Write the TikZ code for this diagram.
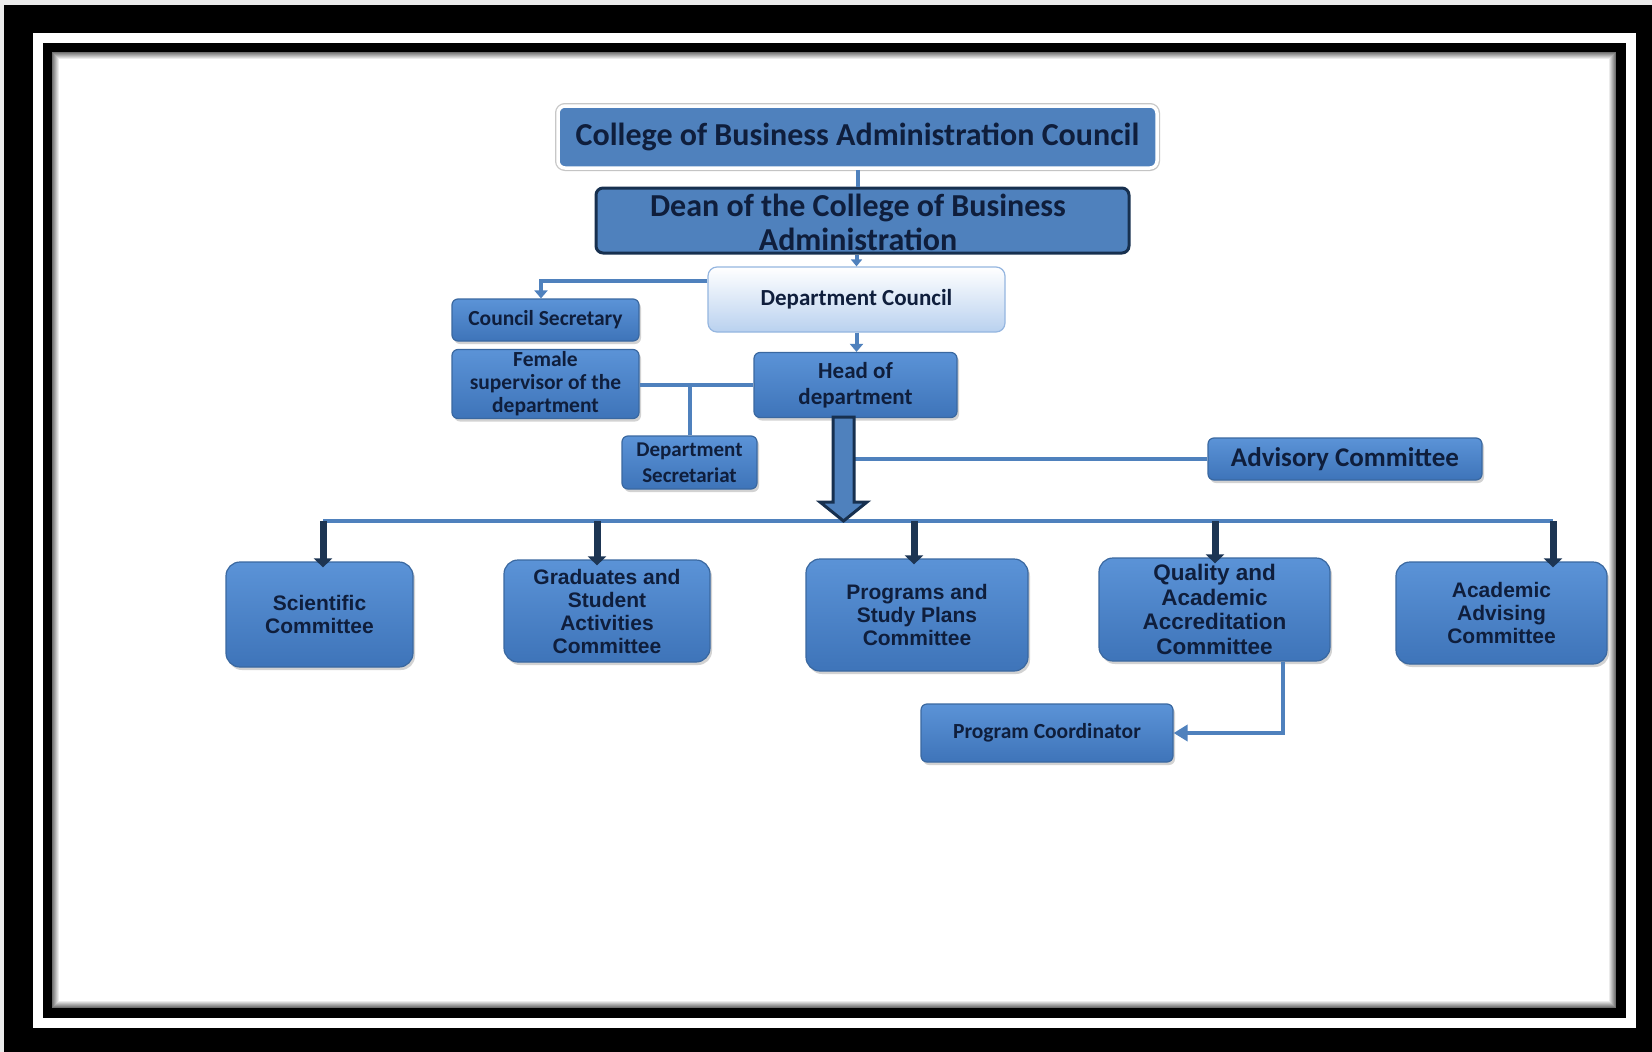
\documentclass[tikz,border=0pt]{standalone}
\usepackage{fontspec}
\setmainfont{Carlito}
\newfontfamily\arialfont{Liberation Sans}
\usepackage{tikz}
\usetikzlibrary{arrows.meta, positioning, shadows}
\definecolor{navytext}   {HTML}{0F1E3C}
\definecolor{boxblue}    {HTML}{4F81BD}
\definecolor{boxtop}     {HTML}{5B93D7}
\definecolor{boxbot}     {HTML}{3E74B9}
\definecolor{boxedge}    {HTML}{3A68A0}
\definecolor{deanedge}   {HTML}{17304F}
\definecolor{councilfill}{HTML}{B9D1EF}
\definecolor{counciledge}{HTML}{95B6E0}
\definecolor{linkblue}   {HTML}{4F81BD}
\definecolor{dropnavy}   {HTML}{1D3553}

\begin{document}
\begin{tikzpicture}[
    x=1pt, y=-1pt,
    every node/.style={text=navytext, inner sep=0pt},
    topbox/.style={rounded corners=7pt, fill=boxblue, align=center,
                   font=\bfseries\fontsize{32}{34}\selectfont},
    councilbox/.style={rounded corners=9pt, top color=white, bottom color=councilfill,
                   draw=counciledge, line width=1.2pt, align=center,
                   font=\bfseries\fontsize{23}{26}\selectfont},
    smallbox/.style={rounded corners=6pt, top color=boxtop, bottom color=boxbot,
                   draw=boxedge, line width=1.2pt, align=center,
                   drop shadow={shadow xshift=2pt, shadow yshift=-3pt, opacity=0.35},
                   font=\bfseries\fontsize{21.5}{23}\selectfont},
    combox/.style={smallbox, rounded corners=14pt,
                   font=\arialfont\bfseries\fontsize{21}{23}\selectfont},
    link/.style={draw=linkblue, line width=4pt},
    tipsmall/.style={-{Triangle[width=13pt,length=8pt]}},
    drop/.style={draw=dropnavy, line width=7pt, -{Triangle[width=18pt,length=9pt]},
                 shorten >=-6pt},
    bigarrow/.style={fill=boxblue, draw=deanedge, line width=3pt, line join=miter},
  ]
    \fill[black!8] (0,0) rectangle (1652,1052);
    \fill[black] (4,5) rectangle (1652,1052);
    \fill[white] (33,33) rectangle (1636,1028);
    \fill[black] (43,43) rectangle (1626,1018);
    \fill[white] (52,52) rectangle (1616,1008);
    \foreach \k [evaluate=\k as \g using 64-8*\k] in {1,...,8}
      \draw[black!\g, line width=1pt] (52+\k-0.5,52+\k-0.5) rectangle (1616-\k+0.5,1008-\k+0.5);

    \node[topbox, draw=white, line width=3.5pt, minimum width=599, minimum height=62,
          preaction={draw=black!22, line width=6pt},
          drop shadow={shadow xshift=1pt, shadow yshift=-2pt, opacity=0.25}]
      (college) at (857.5,137) {College of Business Administration Council};
    \node[topbox, draw=deanedge, line width=3pt, minimum width=533, minimum height=65]
      (dean) at (862.5,220.5) {};
    \node[align=center, font=\bfseries\fontsize{32}{34}\selectfont]
      (deantext) at (858,222.5) {Dean of the College of Business\\Administration};
    \node[councilbox, minimum width=297, minimum height=65]
      (council) at (856.5,299.5) {Department Council};

    \node[smallbox, minimum width=187, minimum height=42]
      (secretary) at (545.5,320) {Council Secretary};
    \node[smallbox, minimum width=187, minimum height=69]
      (female) at (545.5,384) {Female\\supervisor of the\\department};
    \node[smallbox, minimum width=203, minimum height=65,
          font=\bfseries\fontsize{23}{26}\selectfont]
      (head) at (855.5,385) {Head of\\department};
    \node[smallbox, minimum width=135, minimum height=53,
          font=\bfseries\fontsize{21}{26}\selectfont]
      (deptsec) at (689.5,462.5) {Department\\Secretariat};
    \node[smallbox, minimum width=274, minimum height=42,
          font=\bfseries\fontsize{27}{30}\selectfont]
      (advisory) at (1345,459) {Advisory Committee};

    \node[combox, minimum width=187, minimum height=105]
      (sci) at (319.5,614.5) {Scientific\\Committee};
    \node[combox, minimum width=206, minimum height=102]
      (grad) at (607,611) {Graduates and\\Student\\Activities\\Committee};
    \node[combox, minimum width=222, minimum height=112]
      (prog) at (917,615) {Programs and\\Study Plans\\Committee};
    \node[combox, minimum width=231, minimum height=103,
          font=\arialfont\bfseries\fontsize{22.5}{24.5}\selectfont]
      (qual) at (1214.5,609.5) {Quality and\\Academic\\Accreditation\\Committee};
    \node[combox, minimum width=211, minimum height=102]
      (acad) at (1501.5,613) {Academic\\Advising\\Committee};
    \node[smallbox, minimum width=252, minimum height=58]
      (progcoord) at (1047,733) {Program Coordinator};

    \coordinate (shaftR) at (854,417);
    \coordinate (d1) at (323,521);
    \coordinate (d2) at (597,521);
    \coordinate (d3) at (914,521);
    \coordinate (d4) at (1215,521);
    \coordinate (d5) at (1553,521);

    \draw[link] (college.south) -- (college.south |- dean.north);
    \draw[link, -{Triangle[width=11pt,length=7pt]}] (council.north |- dean.south) -- (council.north);
    \draw[link, tipsmall] ([yshift=18.5pt]council.west) -| ([xshift=-4.5pt]secretary.north);
    \draw[link, tipsmall] (council.south) -- (council.south |- head.north);
    \draw[link] (head.west) -- (head.west -| female.east);
    \draw[link] (deptsec.north) -- (deptsec.north |- head.west);
    \draw[link] (advisory.west) -- (advisory.west -| shaftR);
    \draw[link] (d1) -- (d5);
    \foreach \d/\c in {d1/sci, d2/grad, d3/prog, d4/qual, d5/acad}
      \draw[drop] (\d) -- (\d |- \c.north);
    \draw[bigarrow] (833,417) -- (shaftR) -- (854,502) -- (867,502) -- (843.5,521)
      -- (820,502) -- (833,502) -- cycle;
    \draw[link, -{Triangle[width=16pt,length=14pt]}]
      ([xshift=68.5pt]qual.south) |- (progcoord.east);
  \end{tikzpicture}
\end{document}
